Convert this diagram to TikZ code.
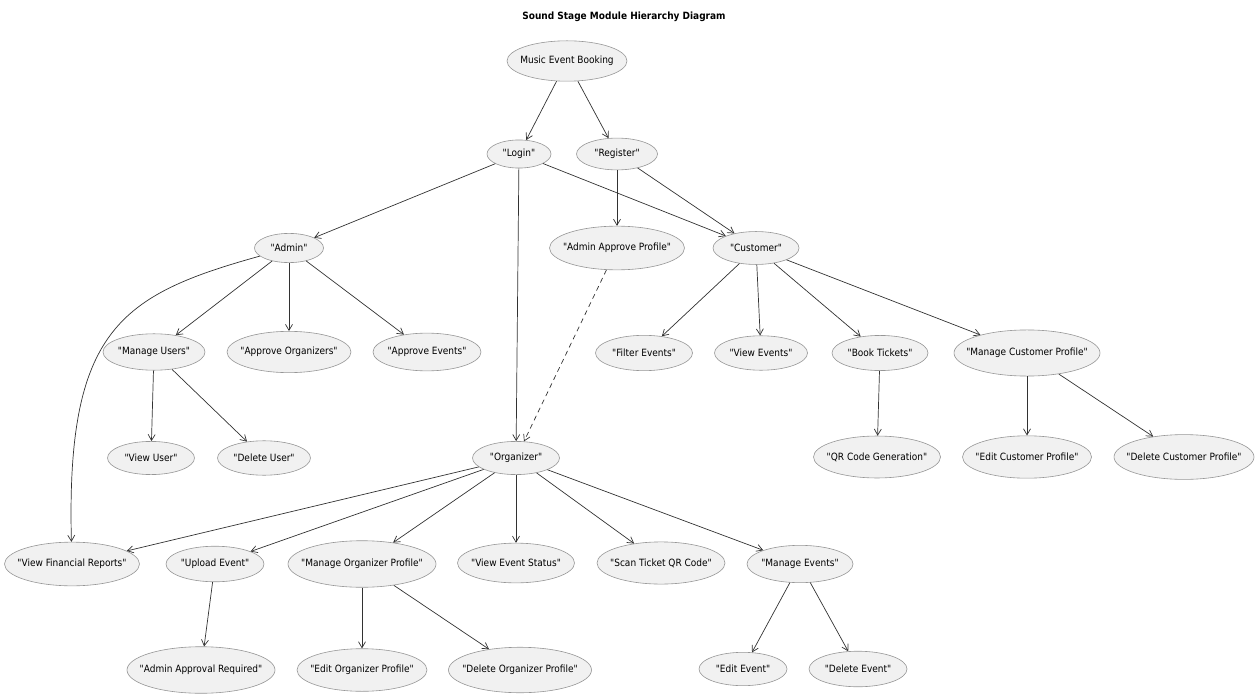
\documentclass[tikz,border=0pt]{standalone}
\usepackage{fontspec}
\newfontfamily\umlfont{DejaVu Sans Condensed}
\usepackage{tikz}
\usetikzlibrary{arrows.meta}
\usetikzlibrary{shapes.geometric}

\definecolor{ucfill}{RGB}{241,241,241}
\definecolor{ucline}{RGB}{150,150,150}
\definecolor{edge}{RGB}{50,50,50}

\tikzset{
  uc/.style={ellipse, draw=ucline, fill=ucfill, line width=0.6pt, inner sep=-30pt,
    minimum width=#1, minimum height={0.22*#1+14}, font=\umlfont\fontsize{10}{12}\selectfont},
  flow/.style={draw=edge, line width=0.7pt, -{Straight Barb[length=6pt,width=7pt]}}
}

\begin{document}
\begin{tikzpicture}[x=1pt, y=-1pt]
                \useasboundingbox (0,0) rectangle (1257,700);

                \node[font=\umlfont\bfseries\fontsize{10}{12}\selectfont] (title) at (624,17) {Sound Stage Module Hierarchy Diagram};

                \node[uc=120] (booking) at (567,61) {Music Event Booking};

                \node[uc=64] (login) at (519,154) {"Login"};
                \node[uc=81] (register) at (617,154) {"Register"};

                \node[uc=69] (admin) at (289,248) {"Admin"};
                \node[uc=135] (approveprofile) at (617,248) {"Admin Approve Profile"};
                \node[uc=86] (customer) at (756,248) {"Customer"};

                \node[uc=102] (manageusers) at (154,352) {"Manage Users"};
                \node[uc=124] (approveorg) at (289,352) {"Approve Organizers"};
                \node[uc=108] (approveevents) at (427,352) {"Approve Events"};
                \node[uc=97] (filterevents) at (644,353) {"Filter Events"};
                \node[uc=93] (viewevents) at (761,353) {"View Events"};
                \node[uc=96] (booktickets) at (880,353) {"Book Tickets"};
                \node[uc=146] (managecust) at (1027,353) {"Manage Customer Profile"};

                \node[uc=87] (viewuser) at (151,458) {"View User"};
                \node[uc=93] (deleteuser) at (264,458) {"Delete User"};
                \node[uc=87] (organizer) at (516,458) {"Organizer"};
                \node[uc=127] (qrcode) at (877,457) {"QR Code Generation"};
                \node[uc=129] (editcust) at (1027,457) {"Edit Customer Profile"};
                \node[uc=140] (deletecust) at (1184,457) {"Delete Customer Profile"};

                \node[uc=135] (financial) at (72,564) {"View Financial Reports"};
                \node[uc=98] (upload) at (215,564) {"Upload Event"};
                \node[uc=148] (manageorg) at (362,564) {"Manage Organizer Profile"};
                \node[uc=117] (eventstatus) at (516,563) {"View Event Status"};
                \node[uc=128] (scanqr) at (661,563) {"Scan Ticket QR Code"};
                \node[uc=106] (manageevents) at (800,564) {"Manage Events"};

                \node[uc=148] (approvalreq) at (201,670) {"Admin Approval Required"};
                \node[uc=130] (editorg) at (362,670) {"Edit Organizer Profile"};
                \node[uc=143] (deleteorg) at (520,670) {"Delete Organizer Profile"};
                \node[uc=88] (editevent) at (743,669) {"Edit Event"};
                \node[uc=98] (deleteevent) at (858,669) {"Delete Event"};

                \draw[flow] (booking) -- (login);
                \draw[flow] (booking) -- (register);

                \draw[flow] (login) -- (admin);
                \draw[flow] (login) -- (organizer);
                \draw[flow] (login) -- (customer);
                \draw[flow] (register) -- (approveprofile);
                \draw[flow] (register) -- (customer);
                \draw[flow, dash pattern=on 5pt off 4pt] (approveprofile) -- (organizer);

                \draw[flow] (admin) -- (manageusers);
                \draw[flow] (admin) -- (approveorg);
                \draw[flow] (admin) -- (approveevents);
                \draw[flow] (admin) .. controls (120,295) and (66,330) .. (financial);

                \draw[flow] (customer) -- (filterevents);
                \draw[flow] (customer) -- (viewevents);
                \draw[flow] (customer) -- (booktickets);
                \draw[flow] (customer) -- (managecust);

                \draw[flow] (manageusers) -- (viewuser);
                \draw[flow] (manageusers) -- (deleteuser);
                \draw[flow] (booktickets) -- (qrcode);
                \draw[flow] (managecust) -- (editcust);
                \draw[flow] (managecust) -- (deletecust);

                \draw[flow] (organizer) -- (financial);
                \draw[flow] (organizer) -- (upload);
                \draw[flow] (organizer) -- (manageorg);
                \draw[flow] (organizer) -- (eventstatus);
                \draw[flow] (organizer) -- (scanqr);
                \draw[flow] (organizer) -- (manageevents);

                \draw[flow] (upload) -- (approvalreq);
                \draw[flow] (manageorg) -- (editorg);
                \draw[flow] (manageorg) -- (deleteorg);
                \draw[flow] (manageevents) -- (editevent);
                \draw[flow] (manageevents) -- (deleteevent);
\end{tikzpicture}
\end{document}
